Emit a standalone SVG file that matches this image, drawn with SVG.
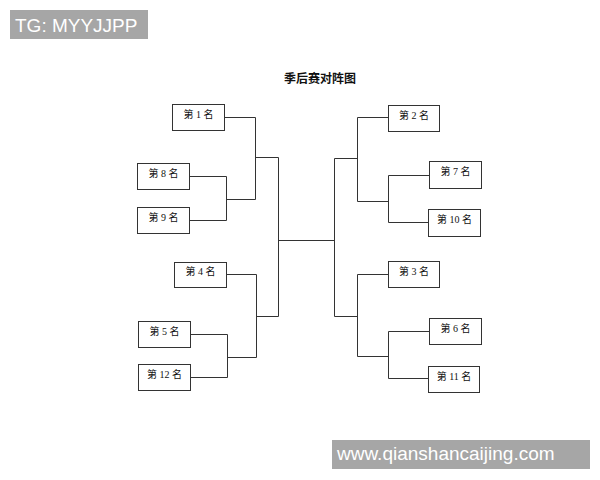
<svg xmlns="http://www.w3.org/2000/svg" width="600" height="480" viewBox="0 0 600 480">
<style>
.box{fill:#fff;stroke:#333;stroke-width:1}
.lbl{font-family:"Liberation Serif","Noto Sans CJK SC",serif;font-size:10px;fill:#111;text-anchor:middle}
.wire{fill:none;stroke:#333;stroke-width:1}
.wm{fill:#a6a6a6}
.wmt{font-family:"Liberation Sans",Arial,sans-serif;font-size:19px;fill:#fff}
</style>
<rect width="600" height="480" fill="#fff"/>
<g id="wm-top"><rect class="wm" x="10" y="10" width="138" height="29"/><text class="wmt" x="15" y="32">TG: MYYJJPP</text></g>
<g id="title"><text x="320" y="83" font-family="'Noto Sans CJK SC',sans-serif" font-size="12" font-weight="bold" text-anchor="middle" fill="#111">季后赛对阵图</text></g>
<g id="connectors">
<path class="wire" d="M224.5,117.5H255.5V199.5"/>
<path class="wire" d="M189.5,176.5H226.5V220.5H189.5"/>
<path class="wire" d="M226.5,199.5H255.5"/>
<path class="wire" d="M255.5,157.5H278.5V316.5H256.5"/>
<path class="wire" d="M226.5,274.5H256.5V357.5"/>
<path class="wire" d="M190.5,334.5H227.5V377.5H190.5"/>
<path class="wire" d="M227.5,357.5H256.5"/>
<path class="wire" d="M278.5,240.5H334.5"/>
<path class="wire" d="M388.5,117.5H357.5V201.5"/>
<path class="wire" d="M429.5,175.5H388.5V222.5H428.5"/>
<path class="wire" d="M357.5,201.5H388.5"/>
<path class="wire" d="M357.5,158.5H334.5V316.5H357.5"/>
<path class="wire" d="M388.5,274.5H357.5V356.5"/>
<path class="wire" d="M429.5,331.5H388.5V378.5H428.5"/>
<path class="wire" d="M357.5,356.5H388.5"/>
</g>
<g id="n1"><rect class="box" x="172.5" y="104.5" width="52" height="26"/><text class="lbl" x="198.5" y="118">第 1 名</text></g>
<g id="n8"><rect class="box" x="137.5" y="163.5" width="52" height="26"/><text class="lbl" x="163.5" y="177">第 8 名</text></g>
<g id="n9"><rect class="box" x="137.5" y="207.5" width="52" height="26"/><text class="lbl" x="163.5" y="221">第 9 名</text></g>
<g id="n4"><rect class="box" x="174.5" y="262.5" width="52" height="25"/><text class="lbl" x="200.5" y="275">第 4 名</text></g>
<g id="n5"><rect class="box" x="138.5" y="321.5" width="52" height="26"/><text class="lbl" x="164.5" y="335">第 5 名</text></g>
<g id="n12"><rect class="box" x="138.5" y="364.5" width="52" height="26"/><text class="lbl" x="164.5" y="378">第 12 名</text></g>
<g id="n2"><rect class="box" x="388.5" y="105.5" width="51" height="26"/><text class="lbl" x="414" y="119">第 2 名</text></g>
<g id="n7"><rect class="box" x="429.5" y="161.5" width="52" height="27"/><text class="lbl" x="455.5" y="175">第 7 名</text></g>
<g id="n10"><rect class="box" x="428.5" y="209.5" width="52" height="27"/><text class="lbl" x="454.5" y="223">第 10 名</text></g>
<g id="n3"><rect class="box" x="388.5" y="261.5" width="51" height="26"/><text class="lbl" x="414" y="275">第 3 名</text></g>
<g id="n6"><rect class="box" x="429.5" y="318.5" width="52" height="26"/><text class="lbl" x="455.5" y="332">第 6 名</text></g>
<g id="n11"><rect class="box" x="428.5" y="366.5" width="51" height="26"/><text class="lbl" x="454" y="380">第 11 名</text></g>
<g id="wm-bottom"><rect class="wm" x="332" y="440" width="258" height="29"/><text class="wmt" x="337" y="460">www.qianshancaijing.com</text></g>
</svg>
